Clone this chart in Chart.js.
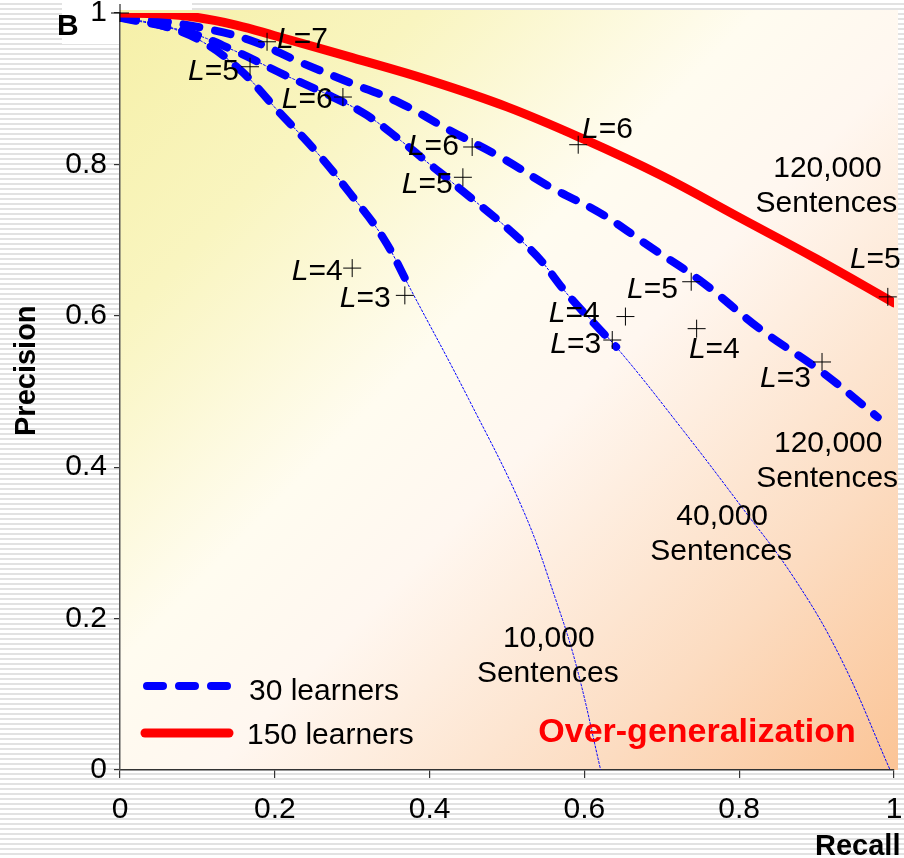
<!DOCTYPE html>
<html>
<head>
<meta charset="utf-8">
<script src="https://cdn.jsdelivr.net/npm/chart.js@4.4.1/dist/chart.umd.min.js"></script>
<style>
  html, body { margin: 0; padding: 0; }
  body {
    width: 904px; height: 858px; overflow: hidden;
    background: repeating-linear-gradient(to bottom, #ffffff 0px, #ffffff 3px, #e2e2e2 3px, #e2e2e2 5px);
  }
  canvas { display: block; }
</style>
</head>
<body>
<canvas id="c" width="904" height="858"></canvas>
<script>
// ---------- data ----------
const xTickLabels = ['0', '0.2', '0.4', '0.6', '0.8', '1'];
const yTickLabels = ['0', '0.2', '0.4', '0.6', '0.8', '1'];

// 150 learners, 120,000 sentences (solid red)
const red120kX = [0, 0.05, 0.1, 0.15, 0.2, 0.3, 0.4, 0.5, 0.6, 0.7, 0.8, 0.9, 1.0];
const red120kY = [1.0, 0.999, 0.994, 0.984, 0.970, 0.941, 0.911, 0.876, 0.833, 0.785, 0.73, 0.675, 0.617];

// 30 learners, 120,000 sentences (dashed blue)
const blue120kX = [0, 0.039, 0.103, 0.168, 0.233, 0.297, 0.362, 0.426, 0.491, 0.556, 0.620, 0.685, 0.749, 0.829, 0.904, 0.979];
const blue120kY = [0.994, 0.991, 0.981, 0.964, 0.935, 0.908, 0.881, 0.845, 0.810, 0.770, 0.736, 0.691, 0.647, 0.581, 0.528, 0.466];

// 30 learners, 40,000 sentences (dashed blue)
const blue40kX = [0, 0.087, 0.146, 0.211, 0.275, 0.319, 0.362, 0.404, 0.426, 0.531, 0.581, 0.641];
const blue40kY = [0.994, 0.975, 0.951, 0.919, 0.889, 0.865, 0.832, 0.797, 0.779, 0.687, 0.625, 0.559];

// 30 learners, 10,000 sentences (dashed blue)
const blue10kX = [0, 0.052, 0.103, 0.155, 0.203, 0.255, 0.297, 0.340, 0.376];
const blue10kY = [0.994, 0.984, 0.964, 0.925, 0.872, 0.815, 0.762, 0.703, 0.634];

// thin trend lines (extrapolations)
const trend10kX = [0, 0.052, 0.103, 0.155, 0.203, 0.255, 0.297, 0.340, 0.376, 0.451, 0.521, 0.563, 0.590, 0.621];
const trend10kY = [0.994, 0.984, 0.964, 0.925, 0.872, 0.815, 0.762, 0.703, 0.634, 0.489, 0.343, 0.225, 0.136, 0];
const trend40kX = [0, 0.087, 0.146, 0.211, 0.275, 0.319, 0.362, 0.404, 0.426, 0.531, 0.581, 0.641, 0.725, 0.805, 0.870, 0.930, 0.995];
const trend40kY = [0.994, 0.975, 0.951, 0.919, 0.889, 0.865, 0.832, 0.797, 0.779, 0.687, 0.625, 0.559, 0.452, 0.345, 0.255, 0.150, 0];

// L markers (+)
const markerX = [0, 0.19, 0.168, 0.288, 0.455, 0.443, 0.592, 0.992, 0.30, 0.368, 0.653, 0.636, 0.738, 0.745, 0.907];
const markerY = [1.0, 0.962, 0.929, 0.889, 0.823, 0.783, 0.826, 0.625, 0.663, 0.627, 0.599, 0.568, 0.645, 0.583, 0.539];

// L labels: value text, anchored (left, baseline) in data coords
const lLabelText = ['7', '5', '6', '6', '5', '6', '5', '4', '3', '5', '4', '3', '4', '3'];
const lLabelX = [0.203, 0.088, 0.209, 0.372, 0.364, 0.597, 0.943, 0.222, 0.284, 0.655, 0.554, 0.556, 0.735, 0.827];
const lLabelY = [0.954, 0.911, 0.874, 0.812, 0.762, 0.835, 0.663, 0.647, 0.612, 0.624, 0.592, 0.551, 0.544, 0.506];

// Sentence annotations (centre x, baseline of first line)
const sentText = ['120,000', '120,000', '40,000', '10,000'];
const sentX = [0.914, 0.915, 0.778, 0.554];
const sentY = [0.783, 0.420, 0.324, 0.163];

const seriesNames = ['30 learners', '150 learners'];

// ---------- helpers ----------
const pts = (xs, ys) => xs.map((x, i) => ({x: x, y: ys[i]}));
const FONT = '"Liberation Sans", Arial, sans-serif';
const BLUE = '#0000ff';
const RED = '#ff0000';
const DASH = [16, 16];

const bgPlugin = {
  id: 'bg',
  beforeDraw(chart) {
    const ctx = chart.ctx;
    const a = chart.chartArea;
    ctx.save();
    // white box behind panel letter
    ctx.fillStyle = '#ffffff';
    ctx.fillRect(62, 2, 130, 42);
    const x0 = a.left, y0 = a.top - 3, x1 = a.right + 4, y1 = a.bottom;
    const g = ctx.createLinearGradient(x0, y0, x1, y1);
    g.addColorStop(0, '#f6f0a8');
    g.addColorStop(0.2, '#f9f5c0');
    g.addColorStop(0.42, '#fffcf0');
    g.addColorStop(0.55, '#fff7f0');
    g.addColorStop(0.8, '#fcdcc1');
    g.addColorStop(1, '#fbc496');
    ctx.fillStyle = g;
    ctx.fillRect(x0, y0, x1 - x0, y1 - y0);
    ctx.restore();
  }
};

const textPlugin = {
  id: 'texts',
  afterDatasetsDraw(chart) {
    const ctx = chart.ctx;
    const xs = chart.scales.x, ys = chart.scales.y;
    ctx.save();
    ctx.fillStyle = '#000';
    ctx.textBaseline = 'alphabetic';
    // L labels
    for (let i = 0; i < lLabelText.length; i++) {
      let px = xs.getPixelForValue(lLabelX[i]);
      const py = ys.getPixelForValue(lLabelY[i]);
      ctx.textAlign = 'left';
      ctx.font = 'italic 30px ' + FONT;
      ctx.fillText('L', px, py);
      px += ctx.measureText('L').width;
      ctx.font = '30px ' + FONT;
      ctx.fillText('=' + lLabelText[i], px, py);
    }
    // Sentences annotations
    ctx.font = '30px ' + FONT;
    ctx.textAlign = 'center';
    for (let i = 0; i < sentText.length; i++) {
      const px = xs.getPixelForValue(sentX[i]);
      const py = ys.getPixelForValue(sentY[i]);
      ctx.fillText(sentText[i], px, py);
      ctx.fillText('Sentences', px - 1, py + 35);
    }
    // Over-generalization
    ctx.fillStyle = RED;
    ctx.font = 'bold 34px ' + FONT;
    ctx.textAlign = 'center';
    ctx.fillText('Over-generalization', 697, 742);

    // legend
    ctx.lineCap = 'round';
    ctx.strokeStyle = BLUE;
    ctx.lineWidth = 8;
    ctx.setLineDash(DASH);
    ctx.beginPath(); ctx.moveTo(147, 686); ctx.lineTo(229, 686); ctx.stroke();
    ctx.setLineDash([]);
    ctx.strokeStyle = RED;
    ctx.lineWidth = 9;
    ctx.beginPath(); ctx.moveTo(145, 733); ctx.lineTo(229, 733); ctx.stroke();
    ctx.fillStyle = '#000';
    ctx.font = '30px ' + FONT;
    ctx.textAlign = 'left';
    ctx.fillText(seriesNames[0], 249, 700);
    ctx.fillText(seriesNames[1], 247, 744);

    // axis titles & panel letter
    ctx.font = 'bold 29px ' + FONT;
    ctx.fillText('Recall', 815, 855);
    ctx.font = 'bold 30px ' + FONT;
    ctx.fillText('B', 57, 35);
    ctx.save();
    ctx.translate(35, 436);
    ctx.rotate(-Math.PI / 2);
    ctx.font = 'bold 29px ' + FONT;
    ctx.textAlign = 'left';
    ctx.fillText('Precision', 0, 0);
    ctx.restore();
    ctx.restore();
  }
};

const lineDs = (label, xs, ys, color, width, dash) => ({
  label: label,
  data: pts(xs, ys),
  showLine: true,
  borderColor: color,
  backgroundColor: color,
  borderWidth: width,
  borderDash: dash,
  borderCapStyle: 'round',
  borderJoinStyle: 'round',
  tension: 0.4,
  pointRadius: 0,
  pointHoverRadius: 0,
  fill: false
});

new Chart(document.getElementById('c'), {
  type: 'scatter',
  data: {
    datasets: [
      {
        label: 'L markers',
        data: pts(markerX, markerY),
        pointStyle: 'cross',
        pointRadius: 9,
        pointBorderWidth: 1,
        borderColor: '#000',
        backgroundColor: '#000',
        showLine: false,
        clip: false
      },
      lineDs('150 learners, 120,000 sentences', red120kX, red120kY, RED, 9, []),
      lineDs('30 learners, 120,000 sentences', blue120kX, blue120kY, BLUE, 8, DASH),
      lineDs('30 learners, 40,000 sentences', blue40kX, blue40kY, BLUE, 8, DASH),
      lineDs('30 learners, 10,000 sentences', blue10kX, blue10kY, BLUE, 8, DASH),
      lineDs('trend 40,000', trend40kX, trend40kY, BLUE, 1, [2, 2]),
      lineDs('trend 10,000', trend10kX, trend10kY, BLUE, 1, [2, 2])
    ]
  },
  options: {
    responsive: false,
    animation: false,
    events: [],
    layout: { padding: { top: 13, right: 10, left: 0, bottom: 0 } },
    plugins: { legend: { display: false }, tooltip: { enabled: false } },
    scales: {
      x: {
        type: 'linear', min: 0, max: 1,
        afterFit: s => { s.height = 88; s.paddingLeft = 0; s.paddingRight = 0; },
        afterBuildTicks: s => { s.ticks = xTickLabels.map(t => ({value: parseFloat(t)})); },
        ticks: {
          autoSkip: false, maxRotation: 0,
          color: '#000', padding: 14,
          font: { size: 30, family: FONT },
          callback: (v, i) => xTickLabels[i]
        },
        grid: { drawOnChartArea: false, drawTicks: true, tickLength: 8, color: '#333', lineWidth: 1.2 },
        border: { color: '#333', width: 1.5 }
      },
      y: {
        type: 'linear', min: 0, max: 1,
        afterFit: s => { s.width = 120; s.paddingTop = 0; s.paddingBottom = 0; },
        afterBuildTicks: s => { s.ticks = yTickLabels.map(t => ({value: parseFloat(t)})); },
        ticks: {
          autoSkip: false,
          color: '#000', padding: 7,
          font: { size: 30, family: FONT },
          callback: (v, i) => yTickLabels[i]
        },
        grid: { drawOnChartArea: false, drawTicks: true, tickLength: 6, color: '#333', lineWidth: 1.2 },
        border: { color: '#555', width: 1.5 }
      }
    }
  },
  plugins: [bgPlugin, textPlugin]
});
</script>
</body>
</html>
